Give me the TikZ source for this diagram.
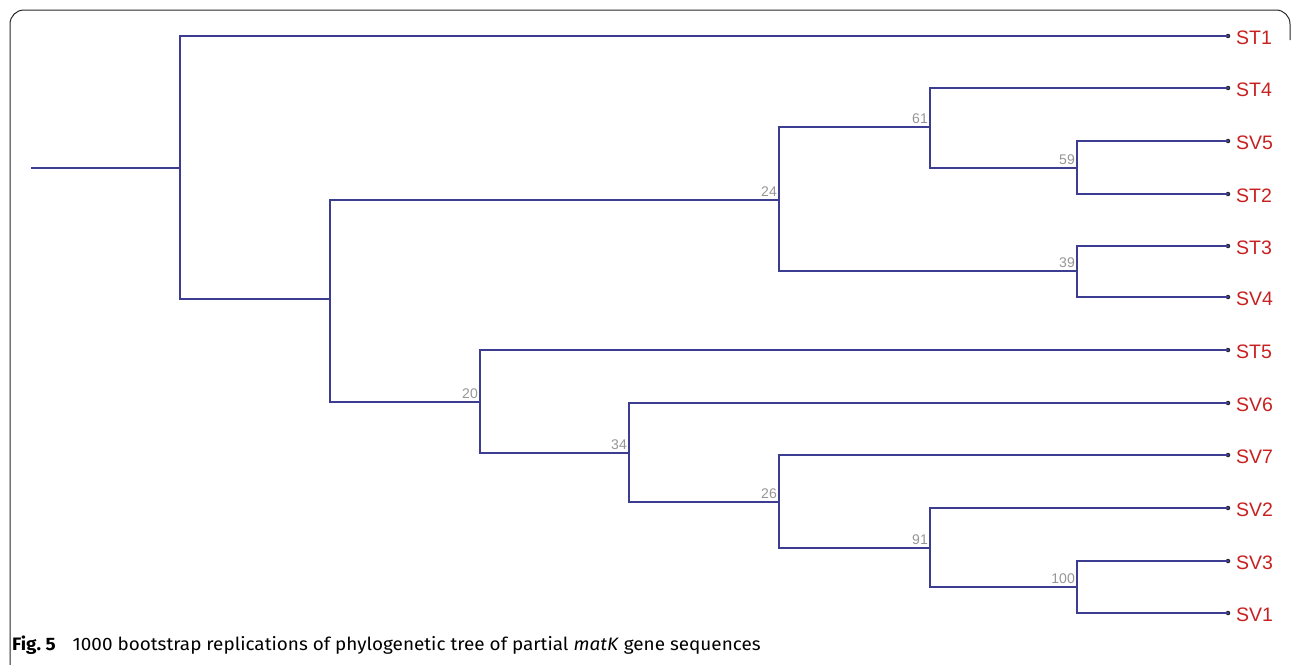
\documentclass[tikz,border=0pt]{standalone}
\usepackage{fontspec}
\setmainfont{Liberation Sans}
\newfontfamily\capfont[FakeStretch=1.05]{Fira Sans}
\definecolor{treeblue}{RGB}{60,60,145}
\definecolor{leafred}{RGB}{200,32,32}
\definecolor{bootgray}{RGB}{150,150,150}
\begin{document}
\begin{tikzpicture}[x=1pt,y=-1pt,
  branch/.style={draw=treeblue,line width=2.3pt,line cap=rect},
  leaf/.style={anchor=base west,text=leafred,inner sep=0pt,font=\fontsize{19.5}{20}\selectfont},
  boot/.style={anchor=base east,text=bootgray,inner sep=0pt,font=\fontsize{14}{15}\selectfont},
  tip/.style={circle,fill=black!85,inner sep=0pt,minimum size=4.5pt}]
\useasboundingbox (0,0) rectangle (1292,664);
% frame
\draw[line width=1pt,black!85,rounded corners=14pt] (1290,40) -- (1290,10) -- (10,10) -- (10,690) -- (40,690);
% internal nodes
\coordinate (root) at (32,168);
\coordinate (nA) at (180,168);
\coordinate (nB) at (330,299);
\coordinate (nC) at (779,200);
\coordinate (nD) at (930,127);
\coordinate (nE) at (1077,168);
\coordinate (nF) at (1077,271);
\coordinate (nG) at (480,402);
\coordinate (nH) at (629,453);
\coordinate (nI) at (779,502);
\coordinate (nJ) at (930,548);
\coordinate (nK) at (1077,587);
% leaves
\foreach \n/\y in {ST1/36,ST4/88,SV5/141,ST2/194,ST3/246,SV4/297,ST5/350,SV6/403,SV7/455,SV2/508,SV3/561,SV1/613}{
  \node[tip] (t\n) at (1228,\y) {};
  \node[leaf] (l\n) at (1236,\y+8) {\n};
}
% branches
\draw[branch] (root) -- (nA);
\draw[branch] (nA) |- (tST1.center);
\draw[branch] (nA) |- (nB);
\draw[branch] (nB) |- (nC);
\draw[branch] (nB) |- (nG);
\draw[branch] (nC) |- (nD);
\draw[branch] (nC) |- (nF);
\draw[branch] (nD) |- (tST4.center);
\draw[branch] (nD) |- (nE);
\draw[branch] (nE) |- (tSV5.center);
\draw[branch] (nE) |- (tST2.center);
\draw[branch] (nF) |- (tST3.center);
\draw[branch] (nF) |- (tSV4.center);
\draw[branch] (nG) |- (tST5.center);
\draw[branch] (nG) |- (nH);
\draw[branch] (nH) |- (tSV6.center);
\draw[branch] (nH) |- (nI);
\draw[branch] (nI) |- (tSV7.center);
\draw[branch] (nI) |- (nJ);
\draw[branch] (nJ) |- (tSV2.center);
\draw[branch] (nJ) |- (nK);
\draw[branch] (nK) |- (tSV3.center);
\draw[branch] (nK) |- (tSV1.center);
% bootstrap values
\node[boot] (b24) at ([xshift=-2pt,yshift=3.5pt]nC) {24};
\node[boot] (b61) at ([xshift=-2pt,yshift=3.5pt]nD) {61};
\node[boot] (b59) at ([xshift=-2pt,yshift=3.5pt]nE) {59};
\node[boot] (b39) at ([xshift=-2pt,yshift=3.5pt]nF) {39};
\node[boot] (b20) at ([xshift=-2pt,yshift=3.5pt]nG) {20};
\node[boot] (b34) at ([xshift=-2pt,yshift=3.5pt]nH) {34};
\node[boot] (b26) at ([xshift=-2pt,yshift=3.5pt]nI) {26};
\node[boot] (b91) at ([xshift=-2pt,yshift=3.5pt]nJ) {91};
\node[boot] (b100) at ([xshift=-2pt,yshift=3.5pt]nK) {100};
% caption
\node[anchor=base west,inner sep=0pt,font=\capfont\fontsize{18}{19}\selectfont] (cap) at (12,650)
  {\textbf{Fig.~5}\hspace{17pt}1000 bootstrap replications of phylogenetic tree of partial \textit{matK} gene sequences};
\end{tikzpicture}
\end{document}
